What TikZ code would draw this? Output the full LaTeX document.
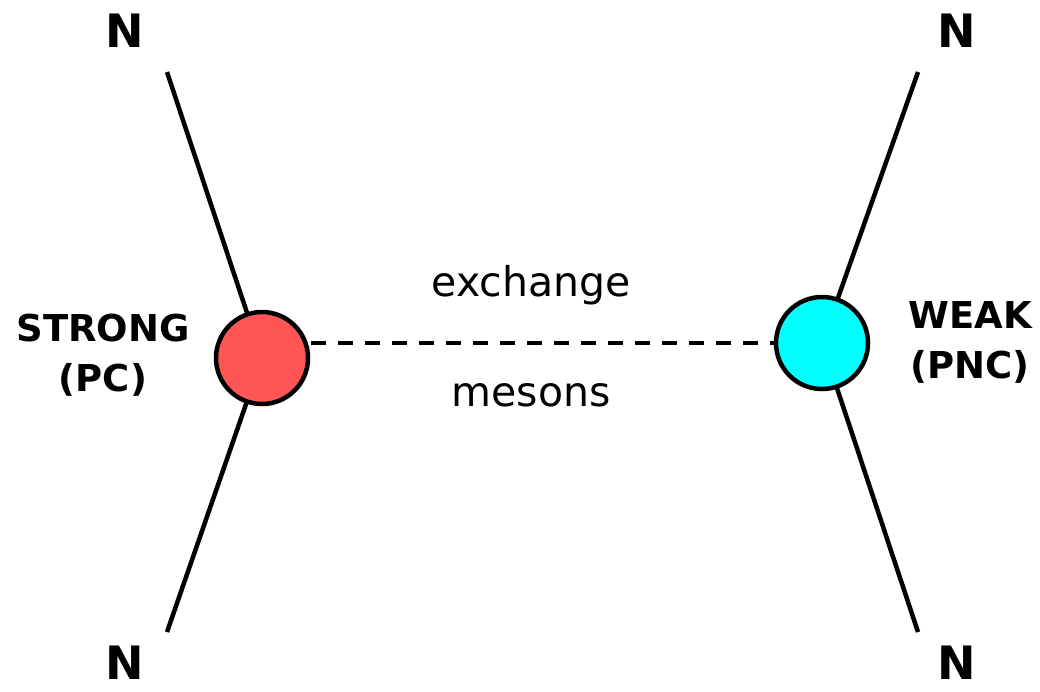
\documentclass[tikz,border=0pt]{standalone}
\usepackage{fontspec}
\setmainfont{DejaVu Sans}
\definecolor{redball}{HTML}{FF5555}
\definecolor{cyanball}{HTML}{00FFFF}
\begin{document}
\begin{tikzpicture}[x=1pt,y=-1pt,
  leg/.style={line width=4.5pt},
  ball/.style={circle,draw=black,line width=4.5pt,minimum size=92pt,inner sep=0pt},
  nlab/.style={font=\fontsize{46}{50}\selectfont\bfseries},
  side/.style={font=\fontsize{37}{50}\selectfont\bfseries,align=center},
  mid/.style={font=\fontsize{41}{48}\selectfont}]
\useasboundingbox (0,0) rectangle (1040,691);
\coordinate (lc) at (262,358);
\coordinate (rc) at (822,343);
\node[nlab] (n1) at (125,31) {N};
\node[nlab] (n2) at (125,663) {N};
\node[nlab] (n3) at (957,31) {N};
\node[nlab] (n4) at (957,663) {N};
\coordinate (e1) at (167,72);
\coordinate (e2) at (167,632);
\coordinate (e3) at (918,72);
\coordinate (e4) at (918,632);
\draw[leg] (e1) -- (lc) -- (e2);
\draw[leg] (e3) -- (rc) -- (e4);
\node[ball,fill=redball] (L) at (lc) {};
\node[ball,fill=cyanball] (R) at (rc) {};
\draw[line width=4pt,dash pattern=on 15pt off 12pt] (L.east |- rc) ++(1,0) coordinate (d0) -- (R.west);
\node[side] (s) at (103,355) {STRONG\\(PC)};
\node[side] (w) at (970,342) {WEAK\\(PNC)};
\node[mid] (ex) at (531,285) {exchange};
\node[mid] (me) at (531,395) {mesons};
\end{tikzpicture}
\end{document}
